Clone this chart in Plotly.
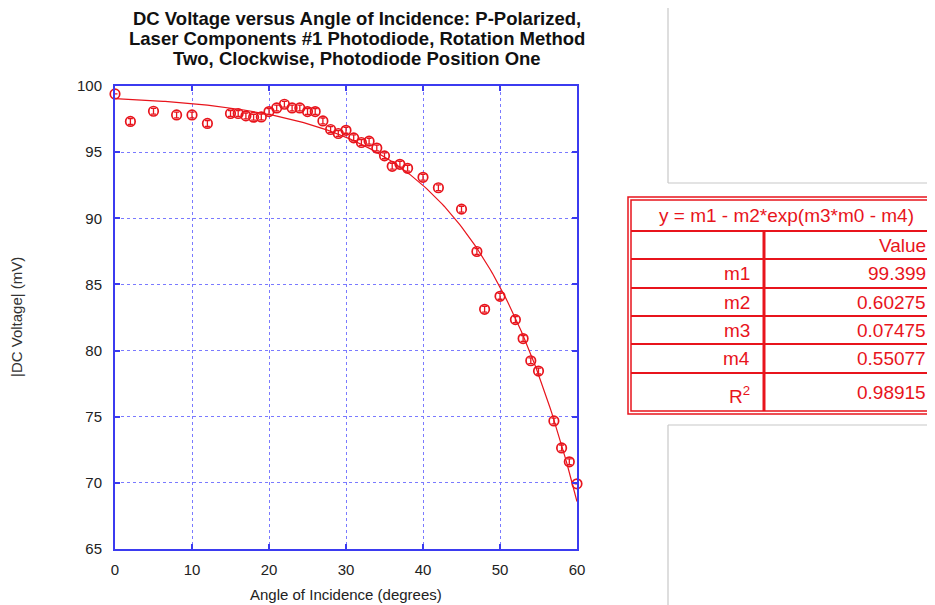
import numpy as np
import plotly.graph_objects as go

# ---- data ----
angle = [0, 2, 5, 8, 10, 12, 15, 16, 17, 18, 19, 20, 21, 22, 23, 24, 25, 26, 27, 28, 29, 30,
         31, 32, 33, 34, 35, 36, 37, 38, 40, 42, 45, 47, 48, 50, 52, 53, 54, 55, 57, 58, 59, 60]
voltage = [99.40, 97.32, 98.09, 97.81, 97.81, 97.17, 97.92, 97.92, 97.74, 97.64, 97.66, 98.07,
           98.34, 98.62, 98.34, 98.34, 98.07, 98.07, 97.36, 96.71, 96.41, 96.65,
           96.08, 95.73, 95.83, 95.31, 94.72, 93.93, 94.08, 93.78, 93.10, 92.31, 90.69, 87.49,
           83.12, 84.10, 82.34, 80.91, 79.23, 78.45, 74.68, 72.64, 71.59, 69.93]
err = [0.0] + [0.22] * (len(angle) - 2) + [0.0]

fit_params = {"m1": 99.399, "m2": 0.60275, "m3": 0.07475, "m4": 0.55077}
r_squared = 0.98915
table_labels = ["m1", "m2", "m3", "m4"]
table_values = ["99.399", "0.60275", "0.07475", "0.55077"]
x_ticks = [0, 10, 20, 30, 40, 50, 60]
y_ticks = [65, 70, 75, 80, 85, 90, 95, 100]

# fit curve from reported parameters
xf = np.linspace(0, 60, 241)
yf = fit_params["m1"] - fit_params["m2"] * np.exp(fit_params["m3"] * xf - fit_params["m4"])

OFF = 8  # page body margin
W, H = 935 - OFF, 605 - OFF
L, R, T, B = 115, 577, 86, 549  # screen pixel plot box


def px(x):
    return (x - L) / (R - L)


def py(y):
    return (B - y) / (B - T)


RED = "#e8141c"
BLUE = "#3b3bf0"
GRID = "#7a7aff"
FONT = "Liberation Sans, Arial"

fig = go.Figure()
fig.add_trace(go.Scatter(x=xf, y=yf, mode="lines", line=dict(color=RED, width=1.2),
                         hoverinfo="skip", showlegend=False, cliponaxis=False))
fig.add_trace(go.Scatter(x=angle, y=voltage, mode="markers", cliponaxis=False,
                         marker=dict(symbol="circle-open", size=9.5, color=RED, line=dict(width=1.7, color=RED)),
                         error_y=dict(type="data", array=err, visible=True, color=RED, thickness=1.3, width=2.5),
                         showlegend=False))

axis_common = dict(showline=True, linecolor=BLUE, linewidth=2, mirror="ticks",
                   ticks="inside", ticklen=5, tickcolor=BLUE, tickwidth=2,
                   showgrid=True, gridcolor=GRID, griddash="dot", gridwidth=1,
                   zeroline=False, tickfont=dict(family=FONT, size=15, color="#222"))

fig.update_xaxes(range=[0, 60], tickvals=x_ticks, ticklabelstandoff=6, **axis_common)
fig.update_yaxes(range=[65, 100], tickvals=y_ticks, ticklabelstandoff=8, **axis_common)

shapes = []
annotations = []

# title
title_lines = ["DC Voltage versus Angle of Incidence: P-Polarized,",
               "Laser Components #1 Photodiode, Rotation Method",
               "Two, Clockwise, Photodiode Position One"]
for i, line in enumerate(title_lines):
    annotations.append(dict(x=px(357), y=py(18 + 20 * i), xref="paper", yref="paper",
                            text="<b>" + line + "</b>", showarrow=False, xanchor="center", yanchor="middle",
                            font=dict(family=FONT, size=18.5, color="#111")))
# axis titles
annotations.append(dict(x=px(346), y=py(594), xref="paper", yref="paper", text="Angle of Incidence (degrees)",
                        showarrow=False, xanchor="center", yanchor="middle",
                        font=dict(family=FONT, size=15, color="#222")))
annotations.append(dict(x=px(16), y=py(317), xref="paper", yref="paper", text="|DC Voltage| (mV)",
                        showarrow=False, textangle=-90, xanchor="center", yanchor="middle",
                        font=dict(family=FONT, size=15, color="#333")))

# grey frames of neighbouring panels
GREY = "#c8c8c8"
for (x0, y0, x1, y1) in [(668, -10, 668, 183), (668, 183, 945, 183), (668, 425, 945, 425), (668, 425, 668, 615)]:
    shapes.append(dict(type="line", xref="paper", yref="paper", x0=px(x0), x1=px(x1), y0=py(y0), y1=py(y1),
                       line=dict(color=GREY, width=1.2)))

# fit table
TX0, TX1 = 629, 945
shapes.append(dict(type="rect", xref="paper", yref="paper", x0=px(TX0 - 1), x1=px(TX1), y0=py(197), y1=py(414),
                   fillcolor="white", line=dict(color=RED, width=1.5)))
shapes.append(dict(type="rect", xref="paper", yref="paper", x0=px(TX0 + 2), x1=px(TX1 - 3), y0=py(200), y1=py(411),
                   line=dict(color=RED, width=1.5)))
row_lines = [231, 259, 288, 316, 344, 373]
for yl in row_lines:
    shapes.append(dict(type="line", xref="paper", yref="paper", x0=px(TX0 + 2), x1=px(TX1 - 3), y0=py(yl), y1=py(yl),
                       line=dict(color=RED, width=2.2 if yl == 231 else 1.8)))
shapes.append(dict(type="line", xref="paper", yref="paper", x0=px(764), x1=px(764), y0=py(231), y1=py(411),
                   line=dict(color=RED, width=3)))

tfont = dict(family=FONT, size=19, color=RED)
annotations.append(dict(x=px(786), y=py(215), xref="paper", yref="paper", showarrow=False,
                        text="y = m1 - m2*exp(m3*m0 - m4)", xanchor="center", yanchor="middle", font=tfont))
annotations.append(dict(x=px(928), y=py(245), xref="paper", yref="paper", showarrow=False,
                        text="Value", xanchor="right", yanchor="middle", font=tfont))
row_centers = [273, 302, 330, 358]
for lab, val, yc in zip(table_labels, table_values, row_centers):
    annotations.append(dict(x=px(752), y=py(yc), xref="paper", yref="paper", showarrow=False,
                            text=lab, xanchor="right", yanchor="middle", font=tfont))
    annotations.append(dict(x=px(928), y=py(yc), xref="paper", yref="paper", showarrow=False,
                            text=val, xanchor="right", yanchor="middle", font=tfont))
annotations.append(dict(x=px(752), y=py(395), xref="paper", yref="paper", showarrow=False,
                        text="R<sup>2</sup>", xanchor="right", yanchor="middle", font=tfont))
annotations.append(dict(x=px(928), y=py(392), xref="paper", yref="paper", showarrow=False,
                        text=f"{r_squared:.5f}", xanchor="right", yanchor="middle", font=tfont))

fig.update_layout(width=W, height=H,
                  margin=dict(l=L - OFF, r=W - (R - OFF), t=T - OFF, b=H - (B - OFF), autoexpand=False),
                  paper_bgcolor="white", plot_bgcolor="white", shapes=shapes, annotations=annotations,
                  showlegend=False)

fig.write_html("out.html")
